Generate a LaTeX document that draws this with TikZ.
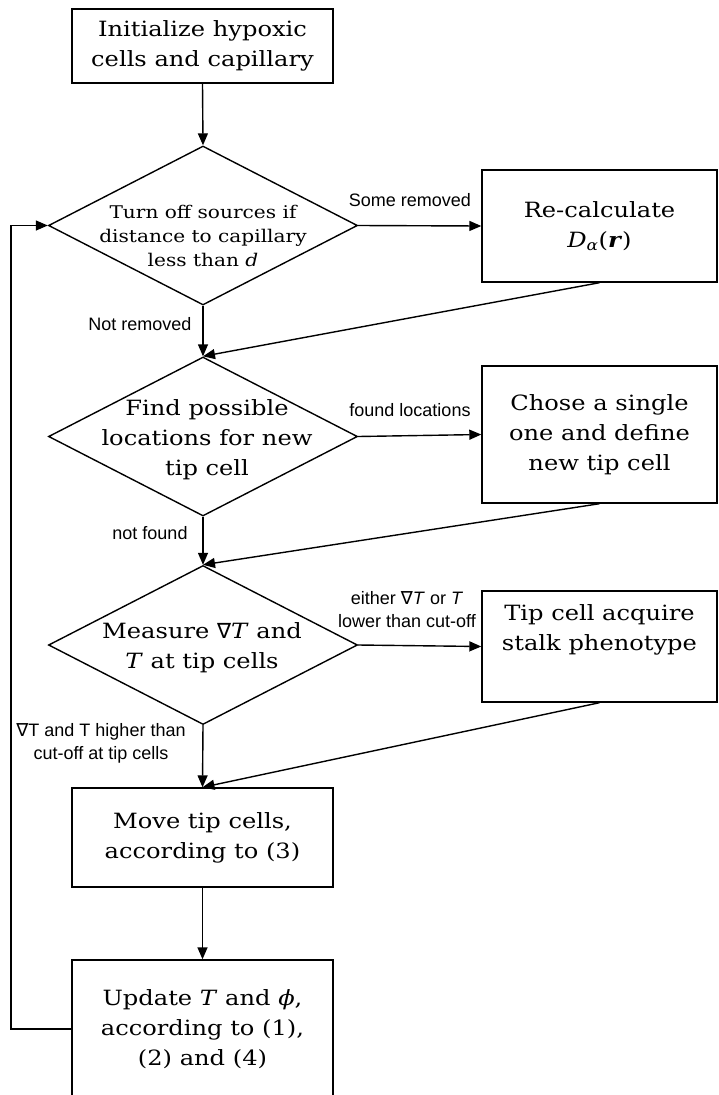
\documentclass[tikz,border=0pt]{standalone}
\usepackage{fontspec}
\setmainfont[FakeStretch=1.15]{DejaVu Serif}
\newfontfamily\labf{Liberation Sans}
\newfontfamily\symf{DejaVu Sans}
\usetikzlibrary{shapes.geometric,arrows.meta}
\newcommand\mainsz{\fontsize{21}{30}\selectfont}
\newcommand\smallsz{\fontsize{17.5}{24}\selectfont}
\begin{document}
\begin{tikzpicture}[x=1pt,y=-1pt,
  box/.style={draw, line width=1.4pt, inner sep=0pt, align=center, font=\mainsz},
  dia/.style={diamond, draw, line width=1.4pt, minimum width=309pt, minimum height=159pt, inner sep=0pt},
  dtext/.style={align=center, inner sep=0pt},
  arr/.style={-{Triangle[length=12pt,width=10pt]}, line width=1.4pt},
  lbl/.style={font=\labf\fontsize{18}{23}\selectfont, align=center, inner sep=0pt}]
\fill[white] (0,0) rectangle (719,1095);
\clip (0,0) rectangle (719,1095);

% boxes
\node[box, minimum width=261pt, minimum height=74pt] (init) at (202.5,46) {Initialize hypoxic\\cells and capillary};
\node[box, minimum width=235pt, minimum height=112pt] (recalc) at (599.5,226) {Re-calculate\\\textit{D}\textsubscript{\textit{α}}(\textbf{\textit{r}})};
\node[box, minimum width=235pt, minimum height=137pt] (chose) at (599.5,434.5) {Chose a single\\one and define\\new tip cell};
\node[box, minimum width=235pt, minimum height=111pt] (tip) at (599.5,646.5) {Tip cell acquire\\stalk phenotype\\[8pt]};
\node[box, minimum width=261pt, minimum height=99pt] (move) at (202.5,837.5) {Move tip cells,\\according to (3)};
\node[box, minimum width=261pt, minimum height=138pt] (upd) at (202.5,1029) {Update \textit{T} and \textit{ϕ},\\according to (1),\\(2) and (4)};

% diamonds
\node[dia] (d1) at (203,225.5) {};
\node[dtext, font=\smallsz] (t1) at (203,236) {Turn off sources if\\distance to capillary\\less than \textit{d}};
\node[dia] (d2) at (203,436.5) {};
\node[dtext, font=\mainsz] (t2) at (207,440) {Find possible\\locations for new\\tip cell};
\node[dia] (d3) at (203,645) {};
\node[dtext, font=\mainsz] (t3) at (202,648) {Measure {\symf\itshape ∇}\textit{T} and\\\textit{T} at tip cells};

% connectors
\draw[arr] (init.south) -- (d1.north);
\draw[arr] (d1.east) -- (recalc.west);
\draw[arr] (d1.south) -- (d2.north);
\draw[arr] (recalc.south) -- (d2.north);
\draw[arr] (d2.east) -- (chose.west);
\draw[arr] (d2.south) -- (d3.north);
\draw[arr] (chose.south) -- (d3.north);
\draw[arr] (d3.east) -- (tip.west);
\draw[arr] (d3.south) -- (move.north);
\draw[arr] (tip.south) -- (move.north);
\draw[arr] (move.south) -- (upd.north);
\draw[arr] (upd.west) -- ++(-60.5,0) |- (d1.west);

% labels
\node[lbl] (l1) at (410,200) {Some removed};
\node[lbl] (l2) at (140,324) {Not removed};
\node[lbl] (l3) at (410,410) {found locations};
\node[lbl] (l4) at (150,533) {not found};
\node[lbl] (l5) at (407,610) {either {\symf\itshape ∇}\textit{T} or \textit{T}\\lower than cut-off};
\node[lbl] (l6) at (101,743) {{\symf ∇}T and T higher than\\cut-off at tip cells};
\end{tikzpicture}
\end{document}
